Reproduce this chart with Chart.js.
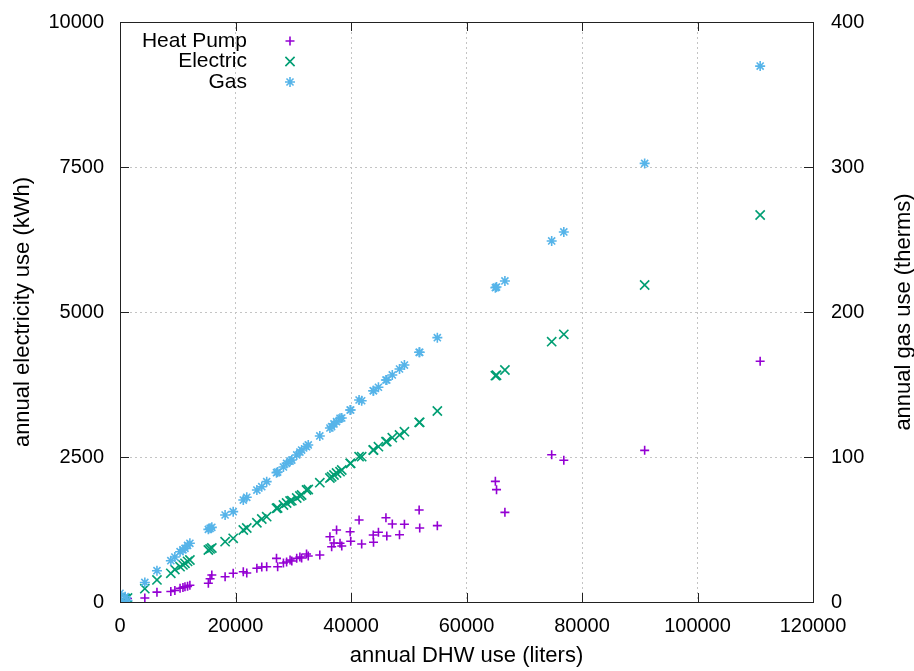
<!DOCTYPE html>
<html>
<head>
<meta charset="utf-8">
<title>DHW use vs energy use</title>
<script src="https://cdn.jsdelivr.net/npm/chart.js@4.4.1/dist/chart.umd.min.js"></script>
<style>
  html, body { margin: 0; padding: 0; background: #fff; }
  #wrap { width: 914px; height: 671px; }
</style>
</head>
<body>
<div id="wrap"><canvas id="dhwChart" width="914" height="671"></canvas></div>
<script>
// annual DHW use per house (liters)
const dhwLiters = [
    0, 200, 900, 1300, 4300, 6400, 8800, 9500, 10400, 10900,
    11250, 11700, 12100, 15300, 15600, 15900, 18200, 19600, 21350, 21950,
    23700, 24550, 25400, 27100, 27300, 28300, 28850, 29450, 29750, 30600,
    31150, 31450, 32300, 32600, 34600, 36350, 36650, 37050, 37500, 38100,
    38400, 39850, 39950, 41400, 41850, 43850, 43900, 44750, 46050, 46200,
    47150, 48400, 49250, 51800, 51900, 54950, 65000, 65200, 66650, 74750,
    76850, 90850, 110850
];

// heat pump water heater, annual electricity (kWh)
const heatPumpKwh = [
    0, 20, 40, 60, 70, 170, 180, 200, 236, 250,
    264, 270, 290, 322, 400, 466, 436, 495, 522, 500,
    581, 603, 609, 753, 609, 672, 690, 724, 707, 753,
    776, 759, 828, 793, 810, 1126, 953, 1017, 1241, 1012,
    966, 1212, 1047, 1414, 1000, 1155, 1029, 1202, 1453, 1138,
    1345, 1160, 1340, 1586, 1276, 1316, 2080, 1937, 1546, 2540,
    2443, 2615, 4150
];

// electric resistance water heater, annual electricity (kWh)
const electricKwh = [
    0, 20, 60, 70, 230, 380, 495, 560, 609, 640,
    667, 700, 724, 897, 915, 931, 1040, 1098, 1241, 1276,
    1367, 1431, 1471, 1616, 1621, 1672, 1707, 1741, 1747, 1793,
    1828, 1845, 1931, 1940, 2057, 2138, 2160, 2190, 2224, 2247,
    2276, 2391, 2391, 2505, 2505, 2621, 2621, 2678, 2764, 2764,
    2833, 2879, 2936, 3098, 3098, 3293, 3902, 3910, 4000, 4488,
    4615, 5466, 6672
];

// gas water heater, annual gas (therms)
const gasTherms = [
    6, 0.5, 3.7, 1, 13.5, 21.6, 28.5, 31, 34.7, 36,
    37, 39, 40.5, 50.1, 50.8, 51.5, 60, 62.3, 70.3, 72.2,
    77.2, 79.5, 83, 89.2, 89.6, 93.1, 95.6, 97.2, 97.9, 101.4,
    103.4, 104.8, 107.1, 108.3, 114.5, 120, 120.9, 122.8, 124.4, 126.7,
    126.9, 132.4, 132.4, 139.3, 138.8, 145.7, 145.7, 148.1, 153.1, 153.1,
    156.6, 160.7, 163.4, 172.2, 172.2, 182.3, 216.8, 217.2, 221.4, 249,
    255.2, 302.5, 369.6
];

const seriesNames = ['Heat Pump', 'Electric', 'Gas'];
const xTicks = [0, 20000, 40000, 60000, 80000, 100000, 120000];
const yTicks = [0, 2500, 5000, 7500, 10000];
const y2Ticks = [0, 100, 200, 300, 400];

const FONT = '"Liberation Sans", Arial, Helvetica, sans-serif';
const colors = ['#9400d3', '#009e73', '#56b4e9'];
const styles = [
    { pointStyle: 'cross', radius: 4.5 },
    { pointStyle: 'crossRot', radius: 6.5 },
    { pointStyle: 'star', radius: 5 }
];

function toPoints(ys) {
    return dhwLiters.map((x, i) => ({ x: x, y: ys[i] }));
}

// vertical axes: fixed width, no extra room asked for the end labels
function fixWidth(w) {
    return s => {
        s.width = w;
        s.paddingTop = 0;
        s.paddingBottom = 0;
    };
}

// border, inward tick marks, right-hand title and gnuplot style key
const gnuplotFrame = {
    id: 'gnuplotFrame',
    afterDatasetsDraw(chart) {
        const ctx = chart.ctx;
        const a = chart.chartArea;
        const sx = chart.scales.x, sy = chart.scales.y, sy2 = chart.scales.y2;
        const t = 9;
        ctx.save();
        ctx.strokeStyle = '#222';
        ctx.lineWidth = 1;
        ctx.beginPath();
        sx.ticks.forEach(tk => {
            const px = Math.round(sx.getPixelForValue(tk.value)) + 0.5;
            ctx.moveTo(px, a.bottom); ctx.lineTo(px, a.bottom - t);
            ctx.moveTo(px, a.top); ctx.lineTo(px, a.top + t);
        });
        sy.ticks.forEach(tk => {
            const py = Math.round(sy.getPixelForValue(tk.value)) + 0.5;
            ctx.moveTo(a.left, py); ctx.lineTo(a.left + t, py);
        });
        sy2.ticks.forEach(tk => {
            const py = Math.round(sy2.getPixelForValue(tk.value)) + 0.5;
            ctx.moveTo(a.right, py); ctx.lineTo(a.right - t, py);
        });
        ctx.stroke();
        ctx.strokeRect(Math.round(a.left) + 0.5, Math.round(a.top) + 0.5,
            Math.round(a.right - a.left), Math.round(a.bottom - a.top));
        ctx.restore();
    },
    afterDraw(chart) {
        const ctx = chart.ctx;
        const a = chart.chartArea;
        ctx.save();
        // right axis title, reading bottom to top like the left one
        ctx.fillStyle = '#000';
        ctx.font = '22px ' + FONT;
        ctx.textAlign = 'center';
        ctx.textBaseline = 'middle';
        ctx.translate(904, (a.top + a.bottom) / 2);
        ctx.rotate(-Math.PI / 2);
        ctx.fillText('annual gas use (therms)', 0, 0);
        ctx.restore();

        // key
        ctx.save();
        ctx.font = '21px ' + FONT;
        ctx.textAlign = 'right';
        ctx.textBaseline = 'middle';
        seriesNames.forEach((name, i) => {
            const y = 41 + i * 20.5;
            ctx.fillStyle = '#000';
            ctx.fillText(name, 247, y);
            ctx.strokeStyle = colors[i];
            ctx.lineWidth = 1.6;
            Chart.helpers.drawPoint(ctx, {
                pointStyle: styles[i].pointStyle,
                radius: styles[i].radius,
                rotation: 0,
                borderWidth: 1.6
            }, 290, y);
        });
        ctx.restore();
    }
};

const datasets = [heatPumpKwh, electricKwh, gasTherms].map((ys, i) => ({
    label: seriesNames[i],
    data: toPoints(ys),
    yAxisID: i === 2 ? 'y2' : 'y',
    pointStyle: styles[i].pointStyle,
    pointRadius: styles[i].radius,
    pointBorderWidth: 1.6,
    borderColor: colors[i],
    backgroundColor: colors[i],
    showLine: false,
    order: 3 - i
}));

const tickFont = { family: FONT, size: 20 };
const titleFont = { family: FONT, size: 22 };
const dotted = { color: '#c4c4c4', lineWidth: 1, drawTicks: false };

new Chart(document.getElementById('dhwChart'), {
    type: 'scatter',
    data: { datasets: datasets },
    plugins: [gnuplotFrame],
    options: {
        responsive: false,
        animation: false,
        layout: { padding: { top: 22, left: 0, right: 0, bottom: 0 } },
        plugins: {
            legend: { display: false },
            tooltip: { enabled: false }
        },
        scales: {
            x: {
                type: 'linear',
                min: 0,
                max: 120000,
                afterBuildTicks: s => { s.ticks = xTicks.map(v => ({ value: v })); },
                afterFit: s => { s.height = 69; },
                ticks: { font: tickFont, color: '#000', padding: 12, maxRotation: 0,
                    callback: v => String(v) },
                grid: Object.assign({}, dotted),
                border: { display: false, dash: [2, 3] },
                title: { display: true, text: 'annual DHW use (liters)', font: titleFont,
                    color: '#000', padding: { top: 0, bottom: 2 } }
            },
            y: {
                type: 'linear',
                position: 'left',
                min: 0,
                max: 10000,
                afterBuildTicks: s => { s.ticks = yTicks.map(v => ({ value: v })); },
                afterFit: fixWidth(120),
                ticks: { font: tickFont, color: '#000', padding: 16,
                    callback: v => String(v) },
                grid: Object.assign({}, dotted),
                border: { display: false, dash: [2, 3] },
                title: { display: true, text: 'annual electricity use (kWh)', font: titleFont,
                    color: '#000', padding: { top: 10, bottom: 0 } }
            },
            y2: {
                type: 'linear',
                position: 'right',
                min: 0,
                max: 400,
                afterBuildTicks: s => { s.ticks = y2Ticks.map(v => ({ value: v })); },
                afterFit: fixWidth(101),
                ticks: { font: tickFont, color: '#000', padding: 18,
                    callback: v => String(v) },
                grid: { display: false, drawTicks: false },
                border: { display: false }
            }
        }
    }
});
</script>
</body>
</html>
